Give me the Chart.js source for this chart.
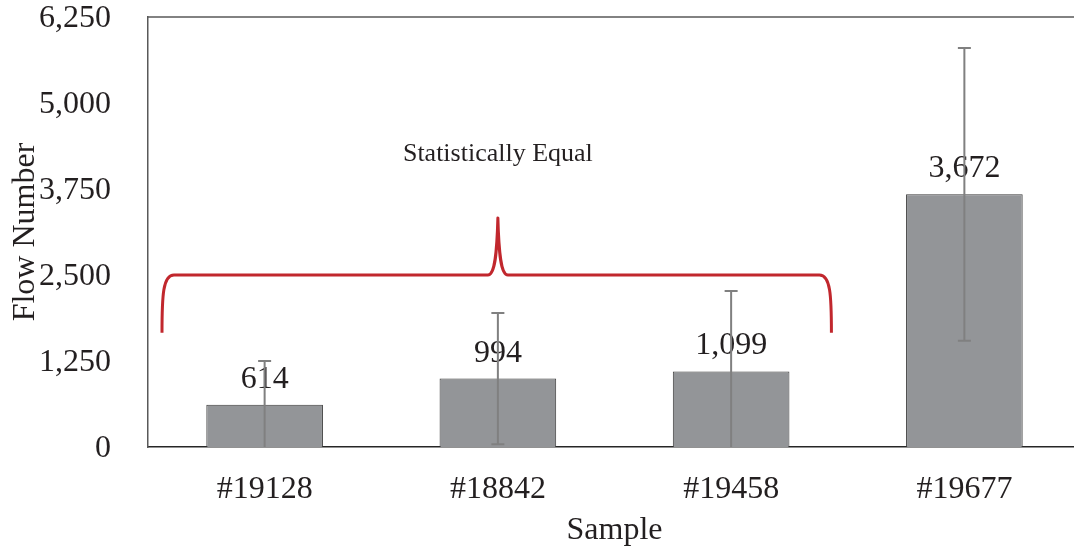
<!DOCTYPE html>
<html>
<head>
<meta charset="utf-8">
<script src="https://cdn.jsdelivr.net/npm/chart.js@4"></script>
<style>
  html, body { margin: 0; padding: 0; background: #fff; overflow: hidden; }
  #wrap { width: 1081px; height: 550px; }
</style>
</head>
<body>
<div id="wrap"><canvas id="chart" width="1081" height="550"></canvas></div>
<script>
const samples = ['#19128', '#18842', '#19458', '#19677'];
const flowNumbers = [614, 994, 1099, 3672];
const flowErrors = [636, 954, 1168, 2128];
const yTicks = [0, 1250, 2500, 3750, 5000, 6250];

// brace over the first three samples: x in category units, y in flow units
const braceSpan = [-0.44, 1, 2.43];
const braceLevels = [1660, 2500, 3330];
const braceLabel = 'Statistically Equal';
const braceLabelPos = [1, 4250];

const serif = '"Liberation Serif", "Times New Roman", serif';
const textColor = '#231f20';

// frame line along the top of the plot
const topFrame = {
    id: 'topFrame',
    afterDraw(chart) {
        const { ctx, chartArea } = chart;
        ctx.save();
        ctx.strokeStyle = '#595959';
        ctx.lineWidth = 1.5;
        ctx.beginPath();
        ctx.moveTo(chartArea.left, chartArea.top);
        ctx.lineTo(chartArea.right, chartArea.top);
        ctx.stroke();
        ctx.restore();
    }
};

// value labels above the bars
const valueLabels = {
    id: 'valueLabels',
    afterDatasetsDraw(chart) {
        const { ctx } = chart;
        const bars = chart.getDatasetMeta(0).data;
        ctx.save();
        ctx.font = '32px ' + serif;
        ctx.fillStyle = textColor;
        ctx.textAlign = 'center';
        ctx.textBaseline = 'alphabetic';
        bars.forEach((bar, i) => {
            ctx.fillText(flowNumbers[i].toLocaleString('en-US'), bar.x, bar.y - 17);
        });
        ctx.restore();
    }
};

// error bars, clipped at zero
const errorBars = {
    id: 'errorBars',
    afterDatasetsDraw(chart) {
        const { ctx, chartArea, scales: { x, y } } = chart;
        ctx.save();
        ctx.beginPath();
        ctx.rect(chartArea.left, chartArea.top, chartArea.width, chartArea.height);
        ctx.clip();
        ctx.strokeStyle = '#808080';
        ctx.lineWidth = 2;
        flowNumbers.forEach((v, i) => {
            const px = x.getPixelForValue(i);
            const lo = v - flowErrors[i];
            const hi = v + flowErrors[i];
            const yLo = y.getPixelForValue(Math.max(lo, 0));
            const yHi = y.getPixelForValue(hi);
            ctx.beginPath();
            ctx.moveTo(px, yLo);
            ctx.lineTo(px, yHi);
            ctx.moveTo(px - 6.5, yHi);
            ctx.lineTo(px + 6.5, yHi);
            if (lo > 0) {
                ctx.moveTo(px - 6.5, yLo);
                ctx.lineTo(px + 6.5, yLo);
            }
            ctx.stroke();
        });
        ctx.restore();
    }
};

// red curly brace + note
const brace = {
    id: 'brace',
    afterDraw(chart) {
        const { ctx, scales: { x, y } } = chart;
        const lx = x.getPixelForValue(braceSpan[0]);
        const mx = x.getPixelForValue(braceSpan[1]);
        const rx = x.getPixelForValue(braceSpan[2]);
        const endY = y.getPixelForValue(braceLevels[0]);
        const lineY = y.getPixelForValue(braceLevels[1]);
        const tipY = y.getPixelForValue(braceLevels[2]);

        ctx.save();
        ctx.strokeStyle = '#c1272d';
        ctx.lineWidth = 3;
        ctx.lineJoin = 'round';
        ctx.beginPath();
        ctx.moveTo(lx, endY);
        ctx.bezierCurveTo(lx, lineY + 20, lx + 1, lineY, lx + 12, lineY);
        ctx.lineTo(mx - 10, lineY);
        ctx.bezierCurveTo(mx - 3, lineY, mx - 1, lineY - 20, mx, tipY);
        ctx.bezierCurveTo(mx + 1, lineY - 20, mx + 3, lineY, mx + 10, lineY);
        ctx.lineTo(rx - 12, lineY);
        ctx.bezierCurveTo(rx - 1, lineY, rx, lineY + 20, rx, endY);
        ctx.stroke();

        ctx.font = '26px ' + serif;
        ctx.fillStyle = textColor;
        ctx.textAlign = 'center';
        ctx.textBaseline = 'middle';
        ctx.fillText(braceLabel, x.getPixelForValue(braceLabelPos[0]), y.getPixelForValue(braceLabelPos[1]));
        ctx.restore();
    }
};

new Chart(document.getElementById('chart'), {
    type: 'bar',
    data: {
        labels: samples,
        datasets: [{
            data: flowNumbers,
            backgroundColor: '#939598',
            borderColor: '#3a3a3a',
            borderWidth: 1,
            categoryPercentage: 1,
            barPercentage: 0.5
        }]
    },
    options: {
        responsive: false,
        animation: false,
        layout: { padding: { top: 17, left: 0, right: 0, bottom: 0 } },
        plugins: {
            legend: { display: false },
            tooltip: { enabled: false }
        },
        scales: {
            x: {
                grid: { display: false },
                border: { display: true, color: '#262626', width: 1.5 },
                ticks: {
                    font: { family: serif, size: 32, lineHeight: 1.2 },
                    color: textColor,
                    padding: 15,
                    maxRotation: 0
                },
                title: {
                    display: true,
                    text: 'Sample',
                    font: { family: serif, size: 32, lineHeight: 1.2 },
                    color: textColor,
                    padding: 0
                },
                afterFit(scale) {
                    scale.height = 103;
                    scale.paddingLeft = 0;
                    scale.paddingRight = 0;
                }
            },
            y: {
                min: 0,
                max: yTicks[yTicks.length - 1],
                afterBuildTicks(scale) {
                    scale.ticks = yTicks.map(v => ({ value: v }));
                },
                grid: { display: false },
                border: { display: true, color: '#595959', width: 1.5 },
                ticks: {
                    font: { family: serif, size: 32, lineHeight: 1 },
                    color: textColor,
                    padding: 29,
                    labelOffset: 2,
                    callback: v => v.toLocaleString('en-US')
                },
                title: {
                    display: true,
                    text: 'Flow Number',
                    font: { family: serif, size: 32, lineHeight: 1.2 },
                    color: textColor,
                    padding: 6
                },
                afterFit(scale) {
                    scale.width = 148;
                    scale.paddingTop = 0;
                    scale.paddingBottom = 0;
                }
            }
        }
    },
    plugins: [topFrame, valueLabels, errorBars, brace]
});
</script>
</body>
</html>
